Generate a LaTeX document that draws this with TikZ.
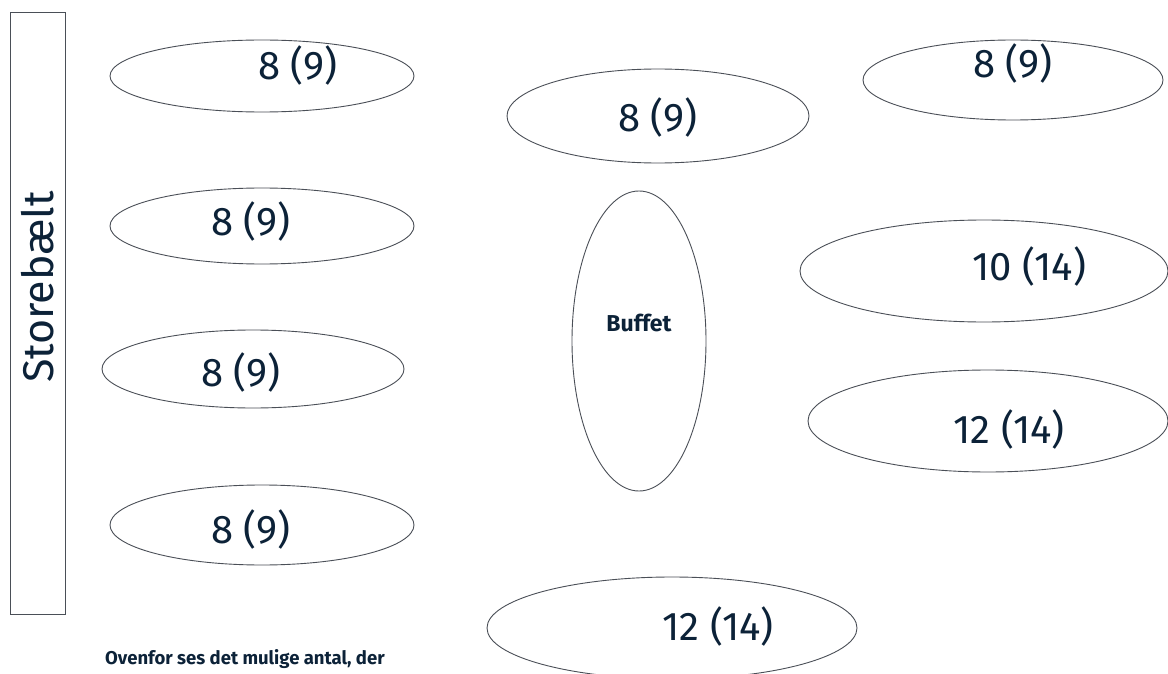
\documentclass[tikz,border=0pt]{standalone}
\usepackage{fontspec}
\setmainfont{Fira Sans}
\usetikzlibrary{shapes.geometric}
\definecolor{ink}{HTML}{0C2238}
\definecolor{edge}{HTML}{4A4F57}
\tikzset{
  tbl/.style={draw=edge, line width=0.9pt, fill=white},
  num/.style={text=ink, font=\fontsize{40}{44}\selectfont, inner sep=0pt},
}
\begin{document}
\begin{tikzpicture}[x=1pt,y=-1pt]
\useasboundingbox (0,0) rectangle (1168,674);
\fill[white] (0,0) rectangle (1168,674);
% Storebaelt
\draw[draw=edge, line width=0.9pt] (10.5,12) rectangle (65,614);
\node[text=ink, font=\fontsize{43}{46}\selectfont, inner sep=0pt, rotate=90] (sb) at (38,287) {Storebælt};
% left column
\draw[tbl] (262,76) ellipse (152 and 36);
\node[num] (t1) at (298,66) {8 (9)};
\draw[tbl] (262,226) ellipse (152 and 38);
\node[num] (t2) at (251,222) {8 (9)};
\draw[tbl] (253,369) ellipse (151 and 39);
\node[num] (t3) at (241,372) {8 (9)};
\draw[tbl] (262,525) ellipse (152 and 40);
\node[num] (t4) at (251,529) {8 (9)};
% middle
\draw[tbl] (658,116) ellipse (151 and 47);
\node[num] (t5) at (658,118) {8 (9)};
\draw[tbl] (639,341) ellipse (67 and 150);
\node[text=ink, font=\bfseries\fontsize{23}{26}\selectfont, inner sep=0pt] (bf) at (639,323) {Buffet};
\draw[tbl] (672,628) ellipse (185 and 51);
\node[num] (t6) at (718,626) {12 (14)};
% right
\draw[tbl] (1013,80) ellipse (150 and 40);
\node[num] (t7) at (1013,64) {8 (9)};
\draw[tbl] (984,271) ellipse (184 and 51);
\node[num] (t8) at (1029,266) {10 (14)};
\draw[tbl] (988,421) ellipse (180 and 51);
\node[num] (t9) at (1009,429) {12 (14)};
% note
\node[anchor=base west, text=ink, font=\bfseries\fontsize{18.5}{22}\selectfont, inner sep=0pt] (note) at (105,664) {Ovenfor ses det mulige antal, der};
\end{tikzpicture}
\end{document}
